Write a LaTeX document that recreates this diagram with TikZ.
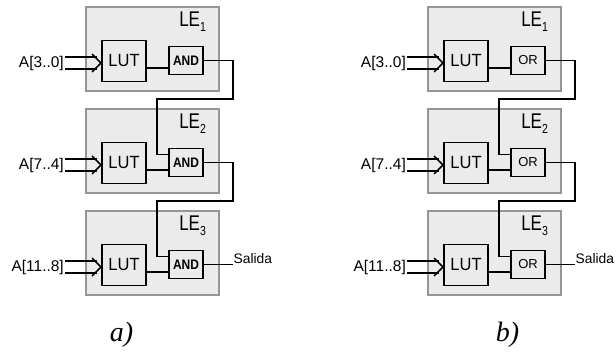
\documentclass[tikz,border=0pt]{standalone}
\usepackage{fontspec}
\setmainfont{Liberation Sans}
\newfontfamily\capfont{Liberation Serif}
\usetikzlibrary{calc}
\definecolor{lebg}{HTML}{EBEBEB}
\definecolor{leborder}{HTML}{959595}
\newcommand{\tallA}[2]{\scalebox{1}[#1]{#2}}
\tikzset{
  lebox/.style={draw=leborder, line width=2.2pt, fill=lebg, minimum width=133pt, minimum height=84pt, inner sep=0pt},
  lutbox/.style={draw=black, line width=1.8pt, fill=lebg, minimum width=44pt, minimum height=41pt, inner sep=0pt, font=\fontsize{16.5}{16.5}\selectfont},
  gatebox/.style={draw=black, line width=1.6pt, fill=lebg, minimum width=34pt, minimum height=28pt, inner sep=0pt},
  andtxt/.style={font=\fontsize{12}{12}\selectfont\bfseries},
  ortxt/.style={font=\fontsize{13}{13}\selectfont},
  lenum/.style={inner sep=0pt, font=\fontsize{17}{17}\selectfont},
  inlab/.style={inner sep=0pt, font=\fontsize{15.5}{15.5}\selectfont},
  outlab/.style={inner sep=0pt, font=\fontsize{13.8}{13.8}\selectfont},
  captxt/.style={inner sep=0pt, font=\capfont\itshape\fontsize{28}{28}\selectfont},
  wire/.style={line width=1.6pt, black},
}
\begin{document}
\begin{tikzpicture}[x=1pt,y=-1pt]
\useasboundingbox (0,0) rectangle (616,351);
\foreach \p/\dx/\g/\gs/\gy in {a/0/AND/andtxt/1.15, b/342/OR/ortxt/1.0}{
  \foreach \i/\t/\lab in {1/7/{A[3..0]},2/109/{A[7..4]},3/211/{A[11..8]}}{
    \node[lebox] (\p le\i) at (152.5+\dx,\t+42) {};
    \node[lenum, anchor=north east] (\p lt\i) at ($(\p le\i.north east)+(-14,5.3)$) {\tallA{1.25}{LE\raisebox{-4.2pt}{\fontsize{10.5}{10.5}\selectfont\i}}};
    \node[lutbox] (\p lut\i) at (124+\dx,\t+54) {\tallA{1.07}{LUT}};
    \node[gatebox,\gs] (\p g\i) at (186+\dx,\t+53.5) {\tallA{\gy}{\g}};
    \coordinate (\p in\i) at (65+\dx,\t+56);
    \coordinate (\p tip\i) at (\p lut\i.west |- \p in\i);
    \node[inlab, anchor=east] (\p il\i) at ($(\p in\i)+(-1,0)$) {\lab};
    \draw[wire] ($(\p in\i)+(0,-6)$) -- ($(\p tip\i)+(-4,-6)$);
    \draw[wire] ($(\p in\i)+(0,6)$) -- ($(\p tip\i)+(-4,6)$);
    \draw[wire] ($(\p tip\i)+(-9,-9)$) -- (\p tip\i) -- ($(\p tip\i)+(-9,9)$);
    \coordinate (\p lg\i) at ($(\p lut\i.east)+(0,7)$);
    \draw[wire] (\p lg\i) -- (\p lg\i -| \p g\i.west);
  }
  \foreach \i/\j/\m in {1/2/99,2/3/201}{
    \coordinate (\p r\i) at (233+\dx,\m);
    \coordinate (\p m\i) at (157+\dx,\m);
    \coordinate (\p ci\j) at ($(\p g\j.west)+(0,-8)$);
    \draw[wire] (\p g\i.east) -- (\p g\i.east -| \p r\i) -- (\p r\i) -- (\p m\i) |- (\p ci\j);
  }
  \coordinate (\p out) at (233+\dx,0);
  \coordinate (\p so) at (\p g3.east -| \p out);
  \draw[wire] (\p g3.east) -- (\p so);
  \node[outlab, anchor=base west] (\p sal) at ($(\p so)+(0.5,-1)$) {Salida};
}
\node[captxt] (capa) at (121.5,334.5) {a)};
\node[captxt] (capb) at (507.5,334.5) {b)};
\end{tikzpicture}
\end{document}
